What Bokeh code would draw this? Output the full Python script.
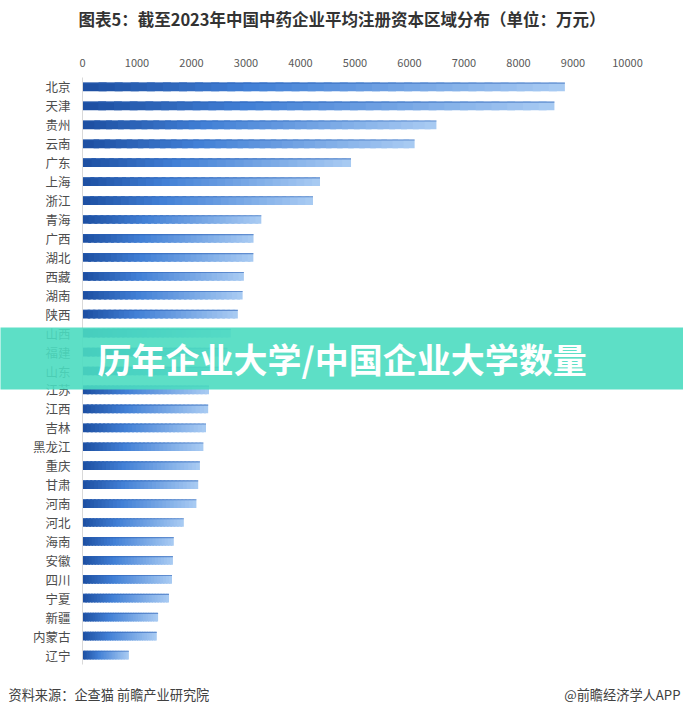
from bokeh.plotting import figure
from bokeh.models import Range1d, SingleIntervalTicker, FixedTicker, ColumnDataSource
from bokeh.core.properties import value
from bokeh.embed import file_html
from bokeh.resources import INLINE

# Average registered capital of TCM enterprises by province (10k yuan), 2023
provinces = ["北京", "天津", "贵州", "云南", "广东", "上海", "浙江", "青海", "广西", "湖北",
             "西藏", "湖南", "陕西", "山西", "福建", "山东", "江苏", "江西", "吉林", "黑龙江",
             "重庆", "甘肃", "河南", "河北", "海南", "安徽", "四川", "宁夏", "新疆", "内蒙古", "辽宁"]
capital = [8851, 8659, 6494, 6094, 4927, 4358, 4229, 3281, 3138, 3135,
           2961, 2938, 2850, 2721, 2660, 2560, 2321, 2306, 2266, 2218,
           2154, 2123, 2090, 1859, 1675, 1659, 1642, 1587, 1387, 1363, 851]
x_ticks_step = 1000
x_max = 10000

title_text = "图表5：截至2023年中国中药企业平均注册资本区域分布（单位：万元）"
banner_text = "历年企业大学/中国企业大学数量"
source_text = "资料来源：企查猫 前瞻产业研究院"
brand_text = "@前瞻经济学人APP"

FONT = "Noto Sans CJK SC"
W, H = 683, 717
LEFT, RIGHT, TOP, BOTTOM = 82, 627, 77, 664   # plot frame edges on the page

n = len(provinces)
rows = [n - i for i in range(n)]          # first province on top

p = figure(width=W, height=H, output_backend="svg", toolbar_location=None,
           x_range=Range1d(0, x_max), y_range=Range1d(0.5, n + 0.5),
           x_axis_location="above",
           min_border_left=LEFT, min_border_right=W - RIGHT,
           min_border_top=TOP, min_border_bottom=H - BOTTOM)
p.outline_line_color = None
p.grid.visible = False
p.background_fill_color = "white"
p.border_fill_color = "white"

# page-pixel ranges for the heading, banner and footer drawn around the frame
p.extra_x_ranges = {"px": Range1d(LEFT, RIGHT)}
p.extra_y_ranges = {"px": Range1d(BOTTOM, TOP)}

# horizontal gradient, dark blue at the base fading to light blue at the tip
def lerp(c1, c2, t):
    return tuple(int(round(a + (b - a) * t)) for a, b in zip(c1, c2))

stops = [(0.0, (28, 78, 160)), (0.35, (66, 128, 214)), (1.0, (170, 204, 243))]

def grad(t):
    for (t0, c0), (t1, c1) in zip(stops[:-1], stops[1:]):
        if t <= t1:
            return "#%02x%02x%02x" % lerp(c0, c1, (t - t0) / (t1 - t0))
    return "#%02x%02x%02x" % stops[-1][1]

N = 30
ys, lefts, rights, colors = [], [], [], []
for r, v in zip(rows, capital):
    for i in range(N):
        ys.append(r)
        lefts.append(v * i / N)
        # slight overlap hides seams between neighbouring slices
        rights.append(min(v, v * (i + 1.5) / N))
        colors.append(grad((i + 0.5) / N))
src = ColumnDataSource(dict(y=ys, left=lefts, right=rights, color=colors))
p.hbar(y="y", left="left", right="right", height=0.46, fill_color="color",
       line_color=None, source=src)

# darker upper edge of each bar
edge = ColumnDataSource(dict(y=[r + 0.2 for r in rows], right=capital))
p.hbar(y="y", left=0, right="right", height=0.06, fill_color="#2a5fb5",
       fill_alpha=0.55, line_color=None, source=edge)

xa = p.xaxis[0]
xa.ticker = SingleIntervalTicker(interval=x_ticks_step)
xa.axis_line_color = None
xa.major_tick_line_color = None
xa.minor_tick_line_color = None
xa.major_tick_out = 0
xa.minor_tick_out = 0
xa.major_label_text_font = FONT
xa.major_label_text_font_size = "11px"
xa.major_label_text_color = "#595959"
xa.major_label_standoff = 11

ya = p.yaxis[0]
ya.ticker = FixedTicker(ticks=rows)
ya.major_label_overrides = {r: name for r, name in zip(rows, provinces)}
ya.axis_line_color = "#d9d9d9"
ya.major_tick_line_color = None
ya.minor_tick_line_color = None
ya.major_tick_out = 0
ya.minor_tick_out = 0
ya.major_label_text_font = FONT
ya.major_label_text_font_size = "12.5px"
ya.major_label_text_color = "#4d4d4d"
ya.major_label_standoff = 12

ov = dict(x_range_name="px", y_range_name="px", level="overlay")

p.text(x=[341.5], y=[18], text=[title_text], text_font=value(FONT),
       text_font_size="16.5px", text_font_style="bold", text_color="#333333",
       text_align="center", text_baseline="middle", **ov)

p.quad(left=[0], right=[W], top=[327], bottom=[389], fill_color="#4bdcc0",
       fill_alpha=0.9, line_color=None, **ov)
p.text(x=[97], y=[358], text=[banner_text], text_font=value(FONT),
       text_font_size="34px", text_font_style="bold", text_color="white",
       text_align="left", text_baseline="middle", **ov)

p.text(x=[8], y=[694], text=[source_text], text_font=value(FONT),
       text_font_size="13.2px", text_color="#404040",
       text_align="left", text_baseline="middle", **ov)
p.text(x=[680], y=[694], text=[brand_text], text_font=value(FONT),
       text_font_size="13.2px", text_color="#404040",
       text_align="right", text_baseline="middle", **ov)

open("out.html", "w").write(file_html(p, INLINE))
